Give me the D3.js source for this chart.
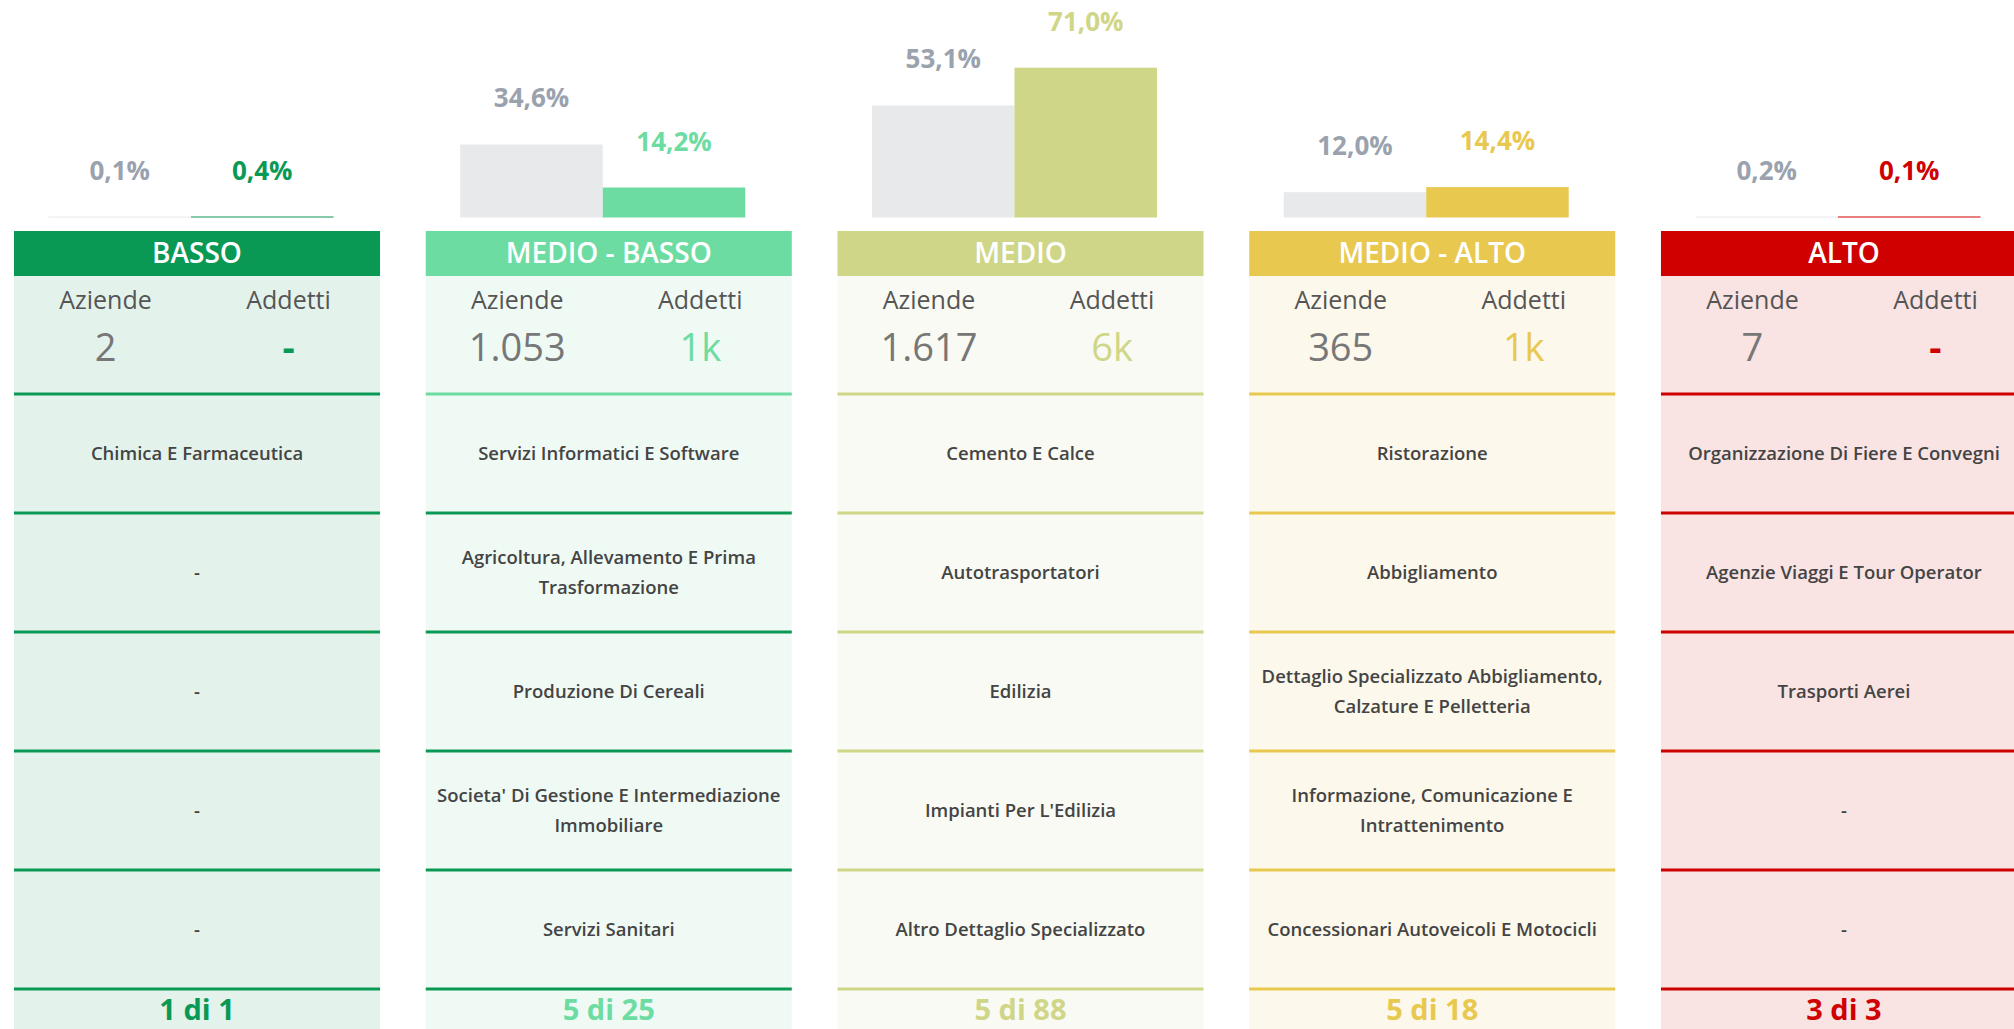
<!DOCTYPE html>
<html>
<head>
<meta charset="utf-8">
<script src="https://cdn.jsdelivr.net/npm/d3@7"></script>
<style>
  html, body { margin: 0; padding: 0; background: #fff; overflow: hidden; }
  svg { display: block; font-family: "Open Sans", sans-serif; }
</style>
</head>
<body>
<svg id="chart" width="2014" height="1029"></svg>
<script>
// livelli di rischio
const levels = ["BASSO", "MEDIO - BASSO", "MEDIO", "MEDIO - ALTO", "ALTO"];
const aziendeShare = [0.1, 34.6, 53.1, 12.0, 0.2];
const addettiShare = [0.4, 14.2, 71.0, 14.4, 0.1];
const aziendeCount = ["2", "1.053", "1.617", "365", "7"];
const addettiCount = ["-", "1k", "6k", "1k", "-"];
const shownSectors = [1, 5, 5, 5, 3];
const totalSectors = [1, 25, 88, 18, 3];
const sectors = [
  ["Chimica E Farmaceutica", "-", "-", "-", "-"],
  ["Servizi Informatici E Software", "Agricoltura, Allevamento E Prima Trasformazione", "Produzione Di Cereali", "Societa' Di Gestione E Intermediazione Immobiliare", "Servizi Sanitari"],
  ["Cemento E Calce", "Autotrasportatori", "Edilizia", "Impianti Per L'Edilizia", "Altro Dettaglio Specializzato"],
  ["Ristorazione", "Abbigliamento", "Dettaglio Specializzato Abbigliamento, Calzature E Pelletteria", "Informazione, Comunicazione E Intrattenimento", "Concessionari Autoveicoli E Motocicli"],
  ["Organizzazione Di Fiere E Convegni", "Agenzie Viaggi E Tour Operator", "Trasporti Aerei", "-", "-"]
];

// colori
const mainColor = ["#0a9955", "#6ddca2", "#cfd688", "#e8c84f", "#cf0000"];
const bgColor = ["#e3f3ec", "#f0faf5", "#f9faf3", "#fcf8ec", "#f9e3e3"];
const rowLineColor = ["#0a9955", "#0a9955", "#cfd688", "#e8c84f", "#cf0000"];
const greyBar = "#e8e9eb";
const greyLabel = "#9aa2ae";

const svg = d3.select("#chart");

const x = d3.scaleBand().domain(levels).range([14, 2027]).paddingInner(0.111);
const colW = x.bandwidth();
const inner = d3.scaleBand().domain(["az", "ad"]).range([34.5, 319.5]);
const y = d3.scaleLinear().domain([0, 100]).range([217.5, 6.5]);

const headerTop = 231, headerBottom = 276;
const firstLine = 394, rowH = 119, nRows = 5;

const fmt = v => d3.format(".1f")(v).replace(".", ",") + "%";

levels.forEach((lvl, i) => {
  const g = svg.append("g").attr("transform", `translate(${x(lvl)},0)`);

  // barre
  const bars = [
    { k: "az", v: aziendeShare[i], fill: greyBar, lab: greyLabel },
    { k: "ad", v: addettiShare[i], fill: mainColor[i], lab: mainColor[i] }
  ];
  g.selectAll("rect.bar").data(bars).join("rect")
    .attr("class", "bar")
    .attr("x", d => inner(d.k))
    .attr("width", inner.bandwidth())
    .attr("y", d => Math.min(y(d.v), y(0) - 1))
    .attr("height", d => Math.max(1, y(0) - y(d.v)))
    .attr("fill", d => d.fill);
  g.selectAll("text.barlab").data(bars).join("text")
    .attr("class", "barlab")
    .attr("x", d => inner(d.k) + inner.bandwidth() / 2)
    .attr("y", d => Math.min(y(d.v), y(0) - 1) - 37)
    .attr("text-anchor", "middle")
    .attr("font-size", 26).attr("font-weight", 700)
    .attr("fill", d => d.lab)
    .text(d => fmt(d.v));

  // sfondo colonna
  g.append("rect").attr("x", 0).attr("y", headerBottom).attr("width", colW).attr("height", 1029 - headerBottom + 10)
    .attr("fill", bgColor[i]);

  // intestazione
  g.append("rect").attr("x", 0).attr("y", headerTop).attr("width", colW).attr("height", headerBottom - headerTop)
    .attr("fill", mainColor[i]);
  g.append("text").attr("x", colW / 2).attr("y", 263).attr("text-anchor", "middle")
    .attr("font-size", 28).attr("font-weight", 600).attr("fill", "#fff").text(lvl);

  // aziende / addetti
  g.append("text").attr("x", colW / 4).attr("y", 309).attr("text-anchor", "middle")
    .attr("font-size", 25).attr("font-weight", 500).attr("fill", "#555").text("Aziende");
  g.append("text").attr("x", colW * 3 / 4).attr("y", 309).attr("text-anchor", "middle")
    .attr("font-size", 25).attr("font-weight", 500).attr("fill", "#555").text("Addetti");
  g.append("text").attr("x", colW / 4).attr("y", 361).attr("text-anchor", "middle")
    .attr("font-size", 38).attr("font-weight", 400).attr("fill", "#777").text(aziendeCount[i]);
  g.append("text").attr("x", colW * 3 / 4).attr("y", 361).attr("text-anchor", "middle")
    .attr("font-size", 38).attr("font-weight", addettiCount[i] === "-" ? 700 : 400)
    .attr("fill", mainColor[i]).text(addettiCount[i]);

  // linee di separazione
  d3.range(nRows + 1).forEach(r => {
    g.append("rect").attr("x", 0).attr("y", firstLine + r * rowH - 1.5).attr("width", colW).attr("height", 3)
      .attr("fill", r === 0 ? mainColor[i] : rowLineColor[i]);
  });

  // settori
  sectors[i].forEach((s, r) => {
    const cy = firstLine + r * rowH + rowH / 2;
    const t = g.append("text").attr("text-anchor", "middle")
      .attr("font-size", 18.5).attr("font-weight", 600).attr("fill", "#444");
    const words = s.split(" ");
    const lines = [];
    let cur = [];
    const probe = t.append("tspan");
    words.forEach(w => {
      const test = cur.concat([w]).join(" ");
      probe.text(test);
      if (probe.node().getComputedTextLength() > 352 && cur.length) {
        lines.push(cur.join(" "));
        cur = [w];
      } else cur.push(w);
    });
    lines.push(cur.join(" "));
    probe.remove();
    const lh = 30;
    lines.forEach((ln, k) => {
      t.append("tspan").attr("x", colW / 2)
        .attr("y", cy + (k - (lines.length - 1) / 2) * lh + 6)
        .text(ln);
    });
  });

  // piede
  g.append("text").attr("x", colW / 2).attr("y", 1020).attr("text-anchor", "middle")
    .attr("font-size", 29).attr("font-weight", 700).attr("fill", mainColor[i])
    .text(`${shownSectors[i]} di ${totalSectors[i]}`);
});
</script>
</body>
</html>
